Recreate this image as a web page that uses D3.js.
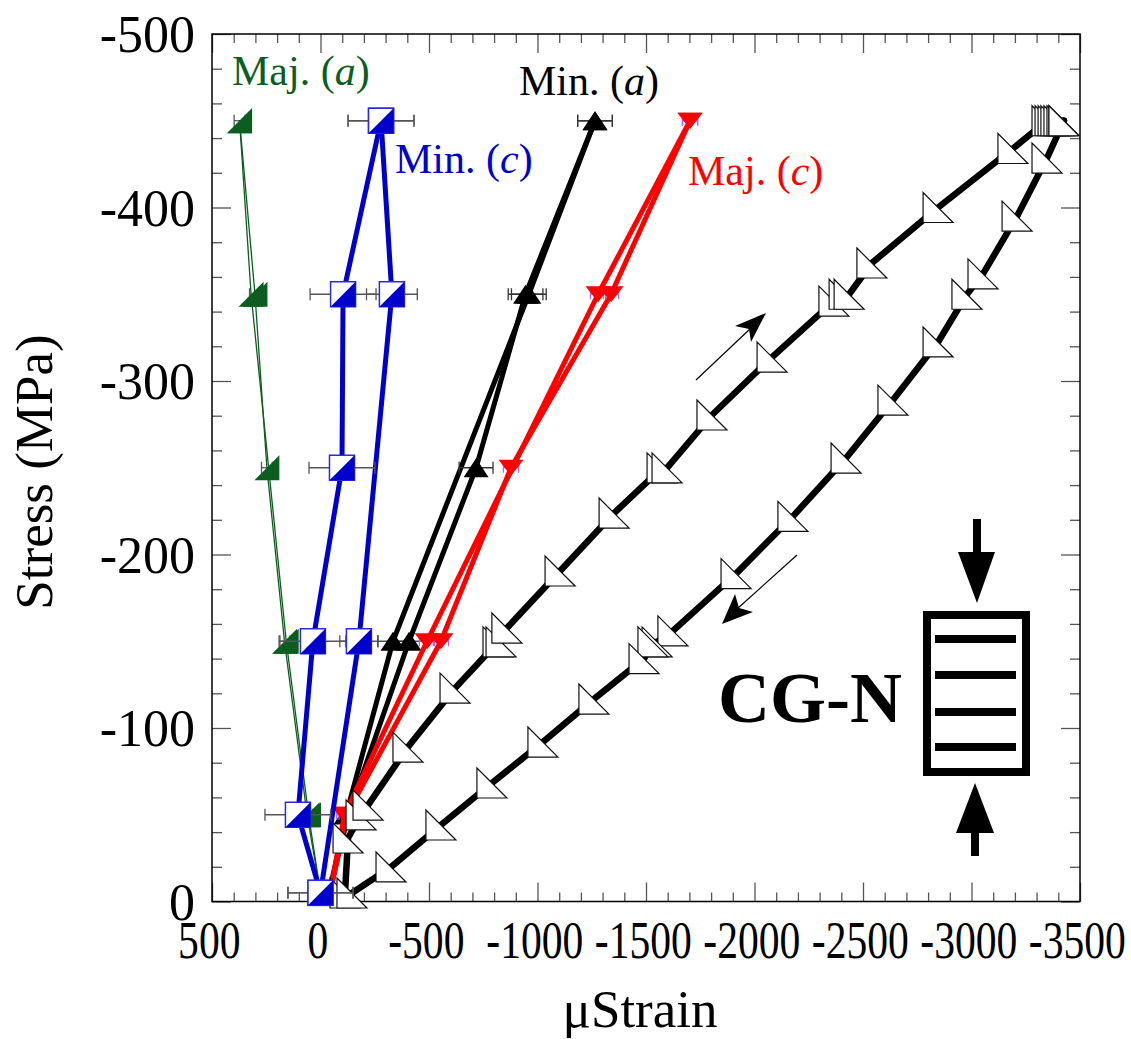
<!DOCTYPE html>
<html><head><meta charset="utf-8">
<script src="https://cdn.jsdelivr.net/npm/d3@7"></script>
<style>body{margin:0;background:#fff}svg{display:block}</style>
</head><body>
<svg id="chart" width="1131" height="1039"></svg>
<script>
// ---- axis ticks ----
const xMajorTicks = [500, 0, -500, -1000, -1500, -2000, -2500, -3000, -3500];
const yMajorTicks = [0, -100, -200, -300, -400, -500];

// ---- Maj. (a) strain gauge: [µstrain, stress MPa] ----
const majALoad   = [[0, -5], [62, -50], [166, -150], [247, -250], [302, -350], [373, -450]];
const majAUnload = [[373, -450], [320, -350], [158, -150], [55, -50], [0, -5]];
const majAErr    = 25;

// ---- Min. (a) ----
const minALoad   = [[-40, -5], [-128, -50], [-408, -150], [-717, -250], [-945, -350], [-1265, -450]];
const minAUnload = [[-1265, -450], [-960, -350], [-334, -150], [-118, -50], [-40, -5]];
const minALoadErr   = [0, 0, 70, 78, 80, 80];
const minAUnloadErr = [80, 80, 70, 0, 0];

// ---- Maj. (c) ----
const majCLoad   = [[-45, -5], [-120, -50], [-555, -150], [-878, -250], [-1339, -350], [-1703, -450]];
const majCUnload = [[-1703, -450], [-1279, -350], [-491, -150], [-110, -50], [-45, -5]];
const majCErr    = 35;

// ---- Min. (c) ----
const minCLoad   = [[0, -5], [104, -50], [35, -150], [-99, -250], [-104, -350], [-279, -450]];
const minCUnload = [[-279, -450], [-329, -350], [-177, -150], [0, -5]];
const minCLoadErr   = [150, 152, 152, 152, 152, 152];
const minCUnloadErr = [152, 117, 88, 150];

// ---- axial (CG-N) loading and unloading branches ----
const axialLoad = [
  [-113, -4.9], [-127, -36.6], [-187, -49.9], [-219, -55.6], [-403, -89], [-620, -123],
  [-818, -149.6], [-832, -149.6], [-859, -157.6], [-1104, -190.5], [-1353, -223.9],
  [-1574, -249.9], [-1597, -249.9], [-1804, -280.4], [-2081, -313.8], [-2366, -346],
  [-2413, -350], [-2436, -350], [-2541, -368], [-2846, -400], [-3191, -434],
  [-3348, -450], [-3362, -450], [-3376, -450], [-3389, -450], [-3403, -450], [-3417, -450], [-3426, -450]
];
const axialUnload = [
  [-3426, -450], [-3348, -428.5], [-3210, -395], [-3053, -361.7], [-2979, -350], [-2846, -322.5],
  [-2638, -289], [-2422, -255.6], [-2177, -222], [-1915, -189], [-1624, -156], [-1551, -149.6],
  [-1532, -149.6], [-1491, -140], [-1260, -116.7], [-1025, -91.9], [-790, -68.3], [-555, -44.1],
  [-325, -19.9], [-145, -4.9]
];

const svg = d3.select("#chart");
const SERIF = "'Liberation Serif','Times New Roman',Times,serif";
const x = d3.scaleLinear().domain([500, -3500]).range([212, 1080]);
const y = d3.scaleLinear().domain([0, -500]).range([901.5, 34]);
const [x0, x1] = x.range();
const [y0, y1] = y.range();

const xMinor = d3.range(500, -3501, -100).filter(v => !xMajorTicks.includes(v));
const yMinor = d3.range(0, -501, -20).filter(v => !yMajorTicks.includes(v));

// ---- axes: inward ticks on all four sides ----
function tickAxis(axis, tx, ty) {
  const g = svg.append("g").attr("transform", `translate(${tx},${ty})`).call(axis);
  g.select(".domain").remove();
  g.selectAll(".tick line").attr("stroke", "#555").attr("stroke-width", 1.3);
  return g;
}
const fmt = d => String(d);
const gx = tickAxis(d3.axisBottom(x).tickValues(xMajorTicks).tickSizeInner(-19).tickSizeOuter(0).tickFormat(fmt), 0, y0);
tickAxis(d3.axisBottom(x).tickValues(xMinor).tickSizeInner(-9).tickSizeOuter(0).tickFormat(""), 0, y0);
tickAxis(d3.axisTop(x).tickValues(xMajorTicks).tickSizeInner(-19).tickSizeOuter(0).tickFormat(""), 0, y1);
tickAxis(d3.axisTop(x).tickValues(xMinor).tickSizeInner(-9).tickSizeOuter(0).tickFormat(""), 0, y1);
const gy = tickAxis(d3.axisLeft(y).tickValues(yMajorTicks).tickSizeInner(-19).tickSizeOuter(0).tickPadding(17).tickFormat(fmt), x0, 0);
tickAxis(d3.axisLeft(y).tickValues(yMinor).tickSizeInner(-10).tickSizeOuter(0).tickFormat(""), x0, 0);
tickAxis(d3.axisRight(y).tickValues(yMajorTicks).tickSizeInner(-19).tickSizeOuter(0).tickFormat(""), x1, 0);
tickAxis(d3.axisRight(y).tickValues(yMinor).tickSizeInner(-10).tickSizeOuter(0).tickFormat(""), x1, 0);

gx.selectAll(".tick text")
  .attr("font-family", SERIF).attr("font-size", 52).attr("fill", "#000")
  .attr("y", 57).attr("dy", 0).attr("dx", -4)
  .attr("transform", "scale(0.8,1)");
gy.selectAll(".tick text")
  .attr("font-family", SERIF).attr("font-size", 52).attr("fill", "#000")
  .attr("dy", "0.34em");

svg.append("rect").attr("x", x0).attr("y", y1).attr("width", x1 - x0).attr("height", y0 - y1)
  .attr("fill", "none").attr("stroke", "#000").attr("stroke-width", 1.5);

// ---- axis titles ----
svg.append("text").attr("x", (x0 + x1) / 2 - 6).attr("y", 1027)
  .attr("text-anchor", "middle").attr("font-family", SERIF).attr("font-size", 53)
  .text("\u03bcStrain");
svg.append("text").attr("transform", "translate(52,472) rotate(-90)")
  .attr("text-anchor", "middle").attr("font-family", SERIF).attr("font-size", 53)
  .text("Stress (MPa)");

// ---- helpers ----
const line = d3.line().x(d => x(d[0])).y(d => y(d[1]));

function path(d, color, width) {
  svg.append("path").attr("d", line(d)).attr("fill", "none")
    .attr("stroke", color).attr("stroke-width", width)
    .attr("stroke-linejoin", "round").attr("stroke-linecap", "round");
}

function errorBars(pts, errs, color, cap) {
  const g = svg.append("g").attr("stroke", color).attr("stroke-width", 1.3).attr("fill", "none");
  pts.forEach((p, i) => {
    const e = Array.isArray(errs) ? errs[i] : errs;
    if (!e) return;
    const xa = x(p[0] - e), xb = x(p[0] + e), yy = y(p[1]);
    g.append("line").attr("x1", xa).attr("x2", xb).attr("y1", yy).attr("y2", yy);
    g.append("line").attr("x1", xa).attr("x2", xa).attr("y1", yy - cap).attr("y2", yy + cap);
    g.append("line").attr("x1", xb).attr("x2", xb).attr("y1", yy - cap).attr("y2", yy + cap);
  });
}

function markers(pts, draw) {
  pts.forEach(p => draw(svg.append("g").attr("transform", `translate(${x(p[0])},${y(p[1])})`)));
}

// marker shapes
const greenMark = g => g.append("path").attr("d", "M12.5,-12.5L12.5,12.5L-12.5,12.5Z").attr("fill", "#0b5e1f");
const upMark = g => g.append("path").attr("d", "M0,-9.5L12.5,9.5L-12.5,9.5Z").attr("fill", "#000");
const downMark = g => g.append("path").attr("d", "M-12.5,-8L12.5,-8L0,8Z").attr("fill", "#ff0000");
const halfSquare = g => {
  g.append("rect").attr("x", -12.5).attr("y", -12.5).attr("width", 25).attr("height", 25)
    .attr("fill", "#fff").attr("stroke", "#2a2ae0").attr("stroke-width", 1.5);
  g.append("path").attr("d", "M12.5,-12.5L12.5,12.5L-12.5,12.5Z").attr("fill", "#0000cc");
};
const openTri = g => {
  g.append("path").attr("d", "M-15,-15L-15,15L15,15Z").attr("fill", "#fff")
    .attr("stroke", "#111").attr("stroke-width", 1.2).attr("stroke-linejoin", "miter");
};

// ---- Maj. (a) ----
path(majALoad, "#0b5e1f", 1.3);
path(majAUnload, "#0b5e1f", 1.3);
errorBars(majALoad, majAErr, "#555", 6);
markers(majALoad, greenMark);
markers(majAUnload, greenMark);

// ---- Min. (a) ----
path(minALoad, "#000", 5);
path(minAUnload, "#000", 5);
errorBars(minALoad, minALoadErr, "#333", 6);
errorBars(minAUnload, minAUnloadErr, "#333", 6);
markers(minALoad, upMark);
markers(minAUnload, upMark);

// ---- Maj. (c) ----
path(majCLoad, "#ff0000", 5);
path(majCUnload, "#ff0000", 5);
errorBars(majCLoad, majCErr, "#b060ff", 5);
errorBars(majCUnload, majCErr, "#b060ff", 5);
markers(majCLoad, downMark);
markers(majCUnload, downMark);

// ---- axial loop ----
path(axialLoad, "#000", 6.5);
path(axialUnload, "#000", 6.5);
markers(axialLoad, openTri);
markers(axialUnload, openTri);

// ---- Min. (c) ----
path(minCLoad, "#0000cc", 5);
path(minCUnload, "#0000cc", 5);
errorBars(minCLoad, minCLoadErr, "#555", 6);
errorBars(minCUnload, minCUnloadErr, "#555", 6);
markers(minCLoad, halfSquare);
markers(minCUnload, halfSquare);

// ---- series labels ----
function label(px, py, color, pre, it) {
  const t = svg.append("text").attr("x", px).attr("y", py).attr("fill", color)
    .attr("font-family", SERIF).attr("font-size", 42);
  t.append("tspan").text(pre + " (");
  t.append("tspan").attr("font-style", "italic").text(it);
  t.append("tspan").text(")");
}
label(232, 85, "#0b5e1f", "Maj.", "a");
label(395, 173, "#0000cc", "Min.", "c");
label(519, 95, "#000", "Min.", "a");
label(688, 185, "#ff0000", "Maj.", "c");

// ---- loading / unloading direction arrows ----
svg.append("line").attr("x1", 696).attr("y1", 380).attr("x2", 751).attr("y2", 328)
  .attr("stroke", "#000").attr("stroke-width", 1.2);
svg.append("path").attr("d", "M766,313L735,326L749,329L751,342Z").attr("fill", "#000");
svg.append("line").attr("x1", 797).attr("y1", 555).attr("x2", 737).attr("y2", 609)
  .attr("stroke", "#000").attr("stroke-width", 1.2);
svg.append("path").attr("d", "M722,624L735,594L739,608L753,612Z").attr("fill", "#000");

// ---- specimen sketch ----
svg.append("text").attr("x", 718).attr("y", 722).attr("font-family", SERIF)
  .attr("font-weight", "bold").attr("font-size", 72).text("CG-N");
svg.append("rect").attr("x", 927).attr("y", 615).attr("width", 99).attr("height", 157)
  .attr("fill", "none").attr("stroke", "#000").attr("stroke-width", 8);
[639, 675, 712, 747].forEach(yy =>
  svg.append("line").attr("x1", 935).attr("x2", 1016).attr("y1", yy).attr("y2", yy)
    .attr("stroke", "#000").attr("stroke-width", 8));
svg.append("rect").attr("x", 973).attr("y", 519).attr("width", 8).attr("height", 34).attr("fill", "#000");
svg.append("path").attr("d", "M958,552L995,552L977,603Z").attr("fill", "#000");
svg.append("rect").attr("x", 971).attr("y", 832).attr("width", 8).attr("height", 24).attr("fill", "#000");
svg.append("path").attr("d", "M956,833L994,833L975,783Z").attr("fill", "#000");
</script>
</body></html>
